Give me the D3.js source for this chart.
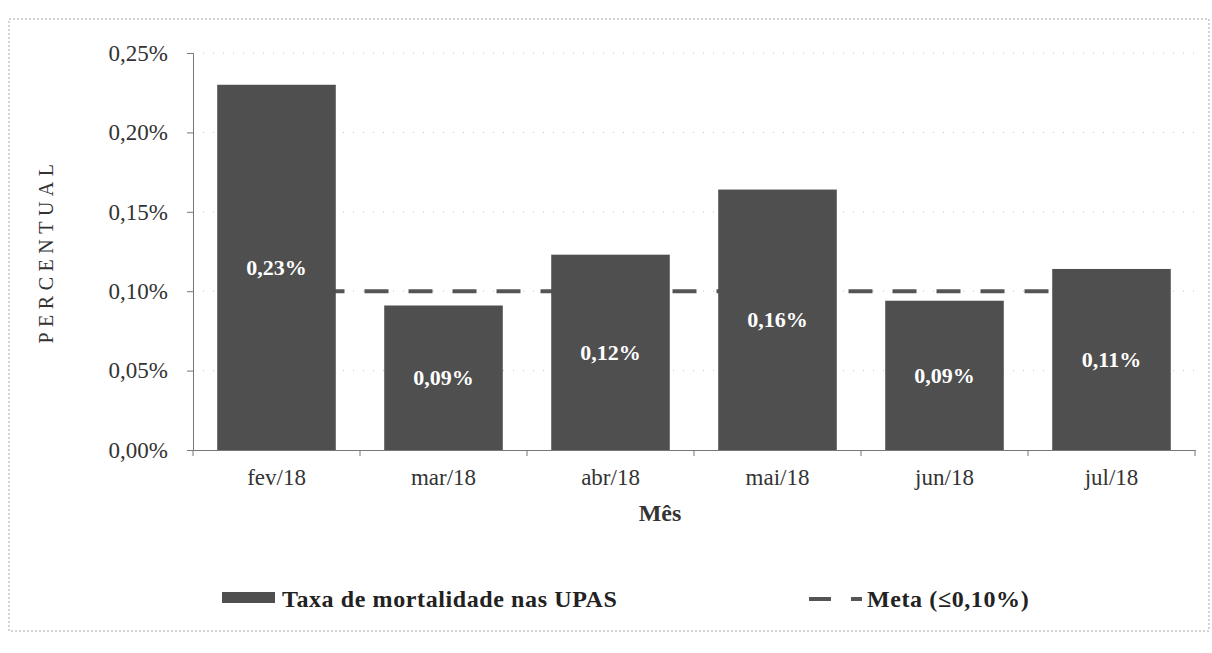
<!DOCTYPE html>
<html>
<head>
<meta charset="utf-8">
<script src="https://cdn.jsdelivr.net/npm/d3@7"></script>
<style>
  body { margin: 0; background: #fff; }
  text { font-family: "Liberation Serif", "DejaVu Serif", serif; }
</style>
</head>
<body>
<svg id="chart" width="1212" height="653"></svg>
<script>
// data
const months = ['fev/18', 'mar/18', 'abr/18', 'mai/18', 'jun/18', 'jul/18'];
const taxa = [0.23, 0.091, 0.123, 0.164, 0.094, 0.114];
const meta = 0.10;
const yTicks = [0, 0.05, 0.10, 0.15, 0.20, 0.25];
const legendLabels = ['Taxa de mortalidade nas UPAS', 'Meta (\u22640,10%)'];

const margin = { top: 53, left: 193, right: 17, bottom: 203 };
const width = 1212;
const height = 653;
const barColor = '#4f4f4f';

const svg = d3.select('#chart');

const fmt = (v) => `${v.toFixed(2).replace('.', ',')}%`;

const x = d3.scaleBand()
  .domain(months)
  .range([margin.left, width - margin.right])
  .paddingInner(0.29)
  .paddingOuter(0.145);

const y = d3.scaleLinear()
  .domain([0, 0.25])
  .range([height - margin.bottom, margin.top]);

// outer frame (faint, like the scan)
svg.append('rect')
  .attr('x', 9)
  .attr('y', 19)
  .attr('width', 1200)
  .attr('height', 612)
  .attr('fill', 'none')
  .attr('stroke', '#aaa')
  .attr('stroke-width', 1)
  .attr('stroke-dasharray', '2,2');

// faint dotted gridlines
svg.append('g')
  .attr('class', 'grid')
  .selectAll('line')
  .data(yTicks.slice(1))
  .join('line')
    .attr('x1', margin.left)
    .attr('x2', width - margin.right)
    .attr('y1', (d) => y(d))
    .attr('y2', (d) => y(d))
    .attr('stroke', '#c4c4c4')
    .attr('stroke-dasharray', '1,9');

// meta line, behind the bars
svg.append('line')
  .attr('class', 'meta')
  .attr('x1', x(months[0]) + x.bandwidth() / 2)
  .attr('x2', x(months[months.length - 1]) + x.bandwidth() / 2)
  .attr('y1', y(meta))
  .attr('y2', y(meta))
  .attr('stroke', '#555')
  .attr('stroke-width', 4)
  .attr('stroke-dasharray', '24,20');

// bars
svg.append('g')
  .attr('class', 'bars')
  .selectAll('rect')
  .data(taxa)
  .join('rect')
    .attr('x', (d, i) => x(months[i]))
    .attr('y', (d) => y(d))
    .attr('width', x.bandwidth())
    .attr('height', (d) => y(0) - y(d))
    .attr('fill', barColor);

// value labels, centred in bars
svg.append('g')
  .attr('class', 'labels')
  .selectAll('text')
  .data(taxa)
  .join('text')
    .attr('x', (d, i) => x(months[i]) + x.bandwidth() / 2)
    .attr('y', (d) => (y(d) + y(0)) / 2)
    .attr('dy', '0.35em')
    .attr('text-anchor', 'middle')
    .attr('fill', '#fff')
    .attr('font-weight', 'bold')
    .attr('font-size', 22)
    .text((d) => fmt(d));

// y axis
const yAxis = svg.append('g')
  .attr('transform', `translate(${margin.left},0)`)
  .call(d3.axisLeft(y).tickValues(yTicks).tickFormat(fmt).tickSize(6).tickPadding(19));
yAxis.select('.domain').attr('stroke', '#777');
yAxis.selectAll('.tick line').attr('stroke', '#777');
yAxis.selectAll('.tick text')
  .attr('font-size', 23)
  .attr('fill', '#333')
  .style('font-family', '"Liberation Serif", serif');

// x axis, ticks at category boundaries
const xAxis = svg.append('g')
  .attr('transform', `translate(0,${y(0)})`)
  .call(d3.axisBottom(x).tickSize(0).tickPadding(19));
xAxis.select('.domain').attr('stroke', '#777');
xAxis.selectAll('.tick text')
  .attr('font-size', 23)
  .attr('fill', '#333')
  .style('font-family', '"Liberation Serif", serif');
xAxis.selectAll('.sep')
  .data(d3.range(months.length + 1))
  .join('line')
    .attr('class', 'sep')
    .attr('x1', (i) => margin.left + i * x.step())
    .attr('x2', (i) => margin.left + i * x.step())
    .attr('y1', 0)
    .attr('y2', 6)
    .attr('stroke', '#777');

// axis titles
svg.append('text')
  .attr('x', 660)
  .attr('y', 521)
  .attr('text-anchor', 'middle')
  .attr('font-size', 24)
  .attr('font-weight', 'bold')
  .attr('fill', '#333')
  .text('Mês');

svg.append('text')
  .attr('transform', 'translate(53,251) rotate(-90)')
  .attr('text-anchor', 'middle')
  .attr('font-size', 20)
  .attr('letter-spacing', 5.5)
  .attr('fill', '#333')
  .text('PERCENTUAL');

// legend
const legend = svg.append('g').attr('class', 'legend');
legend.append('rect')
  .attr('x', 222)
  .attr('y', 592)
  .attr('width', 53)
  .attr('height', 11)
  .attr('fill', barColor);
legend.append('text')
  .attr('x', 282)
  .attr('y', 607)
  .attr('font-size', 24)
  .attr('font-weight', 'bold')
  .attr('letter-spacing', 0.6)
  .attr('fill', '#222')
  .text(legendLabels[0]);
legend.append('line')
  .attr('x1', 809)
  .attr('x2', 862)
  .attr('y1', 599)
  .attr('y2', 599)
  .attr('stroke', '#555')
  .attr('stroke-width', 4)
  .attr('stroke-dasharray', '22,20');
legend.append('text')
  .attr('x', 867)
  .attr('y', 607)
  .attr('font-size', 24)
  .attr('font-weight', 'bold')
  .attr('letter-spacing', 0.6)
  .attr('fill', '#222')
  .text(legendLabels[1]);
</script>
</body>
</html>
